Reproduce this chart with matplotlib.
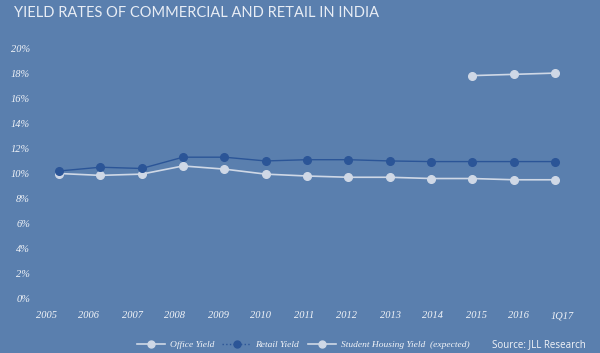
import matplotlib
matplotlib.use('Agg')
import matplotlib.pyplot as plt
from matplotlib.lines import Line2D

# data
years = ['2005', '2006', '2007', '2008', '2009', '2010', '2011',
         '2012', '2013', '2014', '2015', '2016', '1Q17']
retail_yield = [10.2, 10.5, 10.4, 11.3, 11.3, 11.0, 11.1,
                11.1, 11.0, 10.95, 10.95, 10.95, 10.95]
office_yield = [10.0, 9.85, 9.95, 10.6, 10.35, 9.95, 9.8,
                9.7, 9.7, 9.6, 9.6, 9.5, 9.5]
student_idx = [10, 11, 12]
student_yield = [17.8, 17.9, 18.0]
y_ticks = list(range(0, 21, 2))

BG = '#5a7fae'
DARK = '#2b5597'
LIGHT = '#cfd8e6'
TXT = '#f2f4f8'

W, H = 600, 353
fig = plt.figure(figsize=(W / 100, H / 100), dpi=100, facecolor=BG)

# axes box in pixels
left_px, right_px, top_px, bot_px = 35, 590, 40, 305
ax = fig.add_axes([left_px / W, 1 - bot_px / H, (right_px - left_px) / W,
                   (bot_px - top_px) / H])
ax.set_facecolor(BG)

x = list(range(len(years)))
ax.plot(x, retail_yield, color=DARK, lw=1.0, marker='o', ms=5.5, zorder=3)
ax.plot(x, office_yield, color=LIGHT, lw=1.2, marker='o', ms=5.5, zorder=2)
ax.plot(student_idx, student_yield, color=LIGHT, lw=1.2, marker='o', ms=5.5, zorder=2)

# data points: first at 59px, last at 555px
step = (555 - 59) / 12
ax.set_xlim((left_px - 59) / step, (right_px - 59) / step)
ax.set_ylim((299 - bot_px) / 12.55, (299 - top_px) / 12.55)

serif_it = dict(family='Liberation Serif', style='italic')
ax.set_yticks(y_ticks)
ax.set_yticklabels([f'{v}%' for v in y_ticks], color=TXT, fontsize=7.5, **serif_it)
ax.tick_params(axis='y', length=0, pad=3.6)
ax.set_xticks([])
for s in ax.spines.values():
    s.set_visible(False)

# year labels sit on their own spacing (46px .. 562px)
ax2 = ax.twiny()
ax2.xaxis.set_ticks_position('bottom')
lstep = (562 - 46) / 12
ax2.set_xlim((left_px - 46) / lstep, (right_px - 46) / lstep)
ax2.set_xticks(x)
ax2.set_xticklabels(years, color=TXT, fontsize=7.5, **serif_it)
ax2.tick_params(axis='x', length=0, pad=4.5)
for s in ax2.spines.values():
    s.set_visible(False)

fig.text(14 / W, 1 - 13 / H, 'YIELD RATES OF COMMERCIAL AND RETAIL IN INDIA',
         color='#e8edf5', fontsize=10.5, family='Lato', va='center', ha='left')

handles = [
    Line2D([], [], color=LIGHT, lw=1.2, marker='o', ms=5),
    Line2D([], [], color=DARK, lw=1.0, ls=':', marker='o', ms=5),
    Line2D([], [], color=LIGHT, lw=1.2, marker='o', ms=5),
]
labels = ['Office Yield', 'Retail Yield', 'Student Housing Yield  (expected)']
leg = fig.legend(handles, labels, loc='center', bbox_to_anchor=(303 / W, 1 - 345 / H),
                 ncol=3, frameon=False, handlelength=3.0, columnspacing=0.9,
                 handletextpad=0.5, prop=dict(size=6.8, **serif_it))
for t in leg.get_texts():
    t.set_color(TXT)

fig.text(492 / W, 1 - 345 / H, 'Source: JLL Research', color=TXT, fontsize=7,
         family='Open Sans', va='center', ha='left')

fig.savefig('out.png', dpi=100, facecolor=BG)
